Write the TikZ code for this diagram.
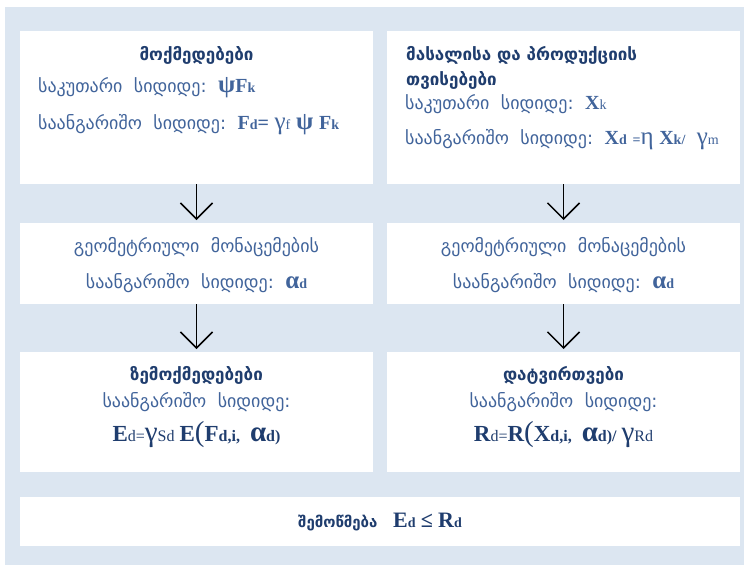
\documentclass[tikz,border=0pt]{standalone}
\usepackage{fontspec}
\setmainfont{Liberation Serif}
\newfontfamily\geo{DejaVu Sans}
\usetikzlibrary{arrows.meta}
\definecolor{bgblue}{HTML}{DCE6F1}
\definecolor{txtblue}{HTML}{41649B}
\definecolor{darkblue}{HTML}{1F3D6E}
\newcommand\fx[1]{{\rmfamily\bfseries\fontsize{20}{24}\selectfont #1}}
\newcommand\fr[1]{{\rmfamily\fontsize{20}{24}\selectfont #1}}
\newcommand\gx[1]{{\rmfamily\bfseries\fontsize{25}{28}\selectfont #1}}
\newcommand\gr[1]{{\rmfamily\fontsize{25}{28}\selectfont #1}}
\newcommand\sx[1]{{\rmfamily\bfseries\fontsize{14}{15}\selectfont #1}}
\newcommand\sr[1]{{\rmfamily\fontsize{14}{15}\selectfont #1}}
% larger set for the lower formulas
\newcommand\Fx[1]{{\rmfamily\bfseries\fontsize{23}{26}\selectfont #1}}
\newcommand\Gx[1]{{\rmfamily\bfseries\fontsize{29}{32}\selectfont #1}}
\newcommand\Gr[1]{{\rmfamily\fontsize{29}{32}\selectfont #1}}
\newcommand\Sx[1]{{\rmfamily\bfseries\fontsize{16}{17}\selectfont #1}}
\newcommand\Sr[1]{{\rmfamily\fontsize{16}{17}\selectfont #1}}
\tikzset{
 panel/.style={fill=white, draw=none, anchor=north west, inner sep=0pt, outer sep=0pt},
 geotxt/.style={text=txtblue, font=\geo\fontsize{18}{21}\selectfont, inner sep=0pt},
 geotitle/.style={text=darkblue, font=\geo\bfseries\fontsize{17}{20}\selectfont, inner sep=0pt},
 formula/.style={text=darkblue, font=\fontsize{20}{24}\selectfont, inner sep=0pt},
 flow/.style={line width=1.5pt, shorten >=3pt, -{Straight Barb[length=16pt,width=32pt]}},
}
\begin{document}
\begin{tikzpicture}[x=1pt,y=-1pt]
\useasboundingbox (0,0) rectangle (744,565);
\fill[bgblue] (5,7) rectangle (744,565);
% panels
\node[panel, minimum width=353pt, minimum height=153pt] (p1) at (20,31) {};
\node[panel, minimum width=353pt, minimum height=153pt] (p2) at (387,31) {};
\node[panel, minimum width=353pt, minimum height=81pt] (p3) at (20,223) {};
\node[panel, minimum width=353pt, minimum height=81pt] (p4) at (387,223) {};
\node[panel, minimum width=353pt, minimum height=120pt] (p5) at (20,352) {};
\node[panel, minimum width=353pt, minimum height=120pt] (p6) at (387,352) {};
\node[panel, minimum width=720pt, minimum height=49pt] (p7) at (20,497) {};
% top-left
\node[geotitle] (t1) at (196.5,55) {მოქმედებები};
\node[geotxt, anchor=west] (t1a) at (38,88) {საკუთარი\ \ სიდიდე:\ \ \gx{ψ}\fx{F}\sx{k}};
\node[geotxt, anchor=west] (t1b) at (38,125) {საანგარიშო\ \ სიდიდე:\ \ \fx{F}\sx{d}\fx{=}\ \gr{γ}\sr{f}\ \gx{ψ}\ \fx{F}\sx{k}};
% top-right
\node[geotitle, anchor=west] (t2) at (406,55) {მასალისა და პროდუქციის};
\node[geotitle, anchor=west] (t2b) at (406,80) {თვისებები};
\node[geotxt, anchor=west] (t2c) at (405,104) {საკუთარი\ \ სიდიდე:\ \ \fx{X}\sr{k}};
\node[geotxt, anchor=west] (t2d) at (405,140) {საანგარიშო\ \ სიდიდე:\ \ \fx{X}\sx{d}\ \sx{=}\gr{η}\ \fx{X}\sx{k}\sx{/}\ \ \gr{γ}\sr{m}};
% middle
\node[geotxt] (m1) at (196.5,247) {გეომეტრიული\ \ მონაცემების};
\node[geotxt] (m1b) at (196.5,283) {საანგარიშო\ \ სიდიდე:\ \ \gx{α}\sx{d}};
\node[geotxt] (m2) at (563.5,247) {გეომეტრიული\ \ მონაცემების};
\node[geotxt] (m2b) at (563.5,283) {საანგარიშო\ \ სიდიდე:\ \ \gx{α}\sx{d}};
% bottom row
\node[geotitle] (b1) at (196.5,375) {ზემოქმედებები};
\node[geotxt] (b1a) at (196.5,402) {საანგარიშო\ \ სიდიდე:};
\node[formula] (b1b) at (196.5,435) {\Fx{E}\Sr{d=}\Gr{γ}\Sr{Sd}\ \Fx{E}\Gr{(}\Fx{F}\Sx{d,i,}\ \ \Gx{α}\Sx{d)}};
\node[geotitle] (b2) at (563.5,375) {დატვირთვები};
\node[geotxt] (b2a) at (563.5,402) {საანგარიშო\ \ სიდიდე:};
\node[formula] (b2b) at (563.5,435) {\Fx{R}\Sr{d=}\Fx{R}\Gr{(}\Fx{X}\Sx{d,i,}\ \ \Gx{α}\Sx{d)/}\ \Gr{γ}\Sr{Rd}};
% check
\node[geotitle, font=\geo\bfseries\fontsize{15}{17}\selectfont] (c1) at (380,522) {შემოწმება\ \ \ {\rmfamily\bfseries\fontsize{22}{24}\selectfont E}\sr{d}\ {\rmfamily\fontsize{22}{24}\selectfont ≤}\ {\rmfamily\bfseries\fontsize{22}{24}\selectfont R}\sr{d}};
% arrows
\draw[flow] (p1.south) -- (p3.north);
\draw[flow] (p2.south) -- (p4.north);
\draw[flow] (p3.south) -- (p5.north);
\draw[flow] (p4.south) -- (p6.north);
\end{tikzpicture}
\end{document}
